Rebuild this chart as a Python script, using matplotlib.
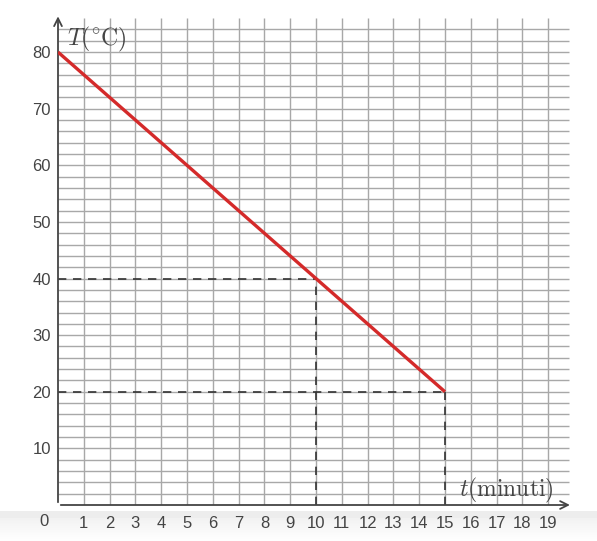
import matplotlib.pyplot as plt
import numpy as np

plt.rcParams['mathtext.fontset'] = 'cm'
plt.rcParams['font.family'] = ['Liberation Sans', 'DejaVu Sans']

# data
t_line = [0, 15]
T_line = [80, 20]
guide_t = [10, 15]
guide_T = [40, 20]
x_ticks = list(range(1, 20))
y_ticks = [10, 20, 30, 40, 50, 60, 70, 80]

fig = plt.figure(figsize=(5.97, 5.41), dpi=100)

# light grey band at bottom of the screenshot
grad = np.concatenate([np.linspace(0, 0.75, 40), np.full(12, 1.0)]).reshape(-1, 1)
bax = fig.add_axes([0, 0, 1, 30 / 541], zorder=-1)
bax.imshow(grad[::-1], aspect='auto', cmap='Greys', vmin=0, vmax=7, extent=[0, 1, 0, 1])
bax.axis('off')

ax = fig.add_axes([58 / 597, 36 / 541, 525 / 597, 492 / 541])
ax.patch.set_alpha(0)
ax.set_xlim(0, 20.35)
ax.set_ylim(0, 86.9)
for s in ax.spines.values():
    s.set_visible(False)

# grid paper
grid_c = '#a8a8a8'
ax.hlines(np.arange(2, 85, 2), 0, 19.8, color=grid_c, lw=1.0, zorder=1)
ax.vlines(np.arange(1, 20), 0, 86, color=grid_c, lw=1.0, zorder=1)

# axes with arrows
ax.annotate('', xy=(19.95, 0), xytext=(0, 0),
            arrowprops=dict(arrowstyle='->', color='#444444', lw=1.3, mutation_scale=14),
            annotation_clip=False, zorder=3)
ax.annotate('', xy=(0, 86.8), xytext=(0, 0),
            arrowprops=dict(arrowstyle='->', color='#444444', lw=1.3, mutation_scale=14),
            annotation_clip=False, zorder=3)

# dashed guides
for tt, TT in zip(guide_t, guide_T):
    ax.plot([0, tt], [TT, TT], color='#333333', lw=1.2, dashes=(5, 4), zorder=2)
    ax.plot([tt, tt], [0, TT], color='#333333', lw=1.2, dashes=(5, 4), zorder=2)

ax.plot(t_line, T_line, color='#d42a2a', lw=2.4, zorder=4, solid_capstyle='butt')

ax.set_xticks(x_ticks)
ax.set_xticklabels([str(v) for v in x_ticks])
ax.set_yticks(y_ticks)
ax.set_yticklabels([str(v) for v in y_ticks])
ax.tick_params(length=0, labelsize=12, colors='#444444')
ax.tick_params(axis='x', pad=8)
ax.tick_params(axis='y', pad=5)
ax.text(-0.35, -1.6, '0', ha='right', va='top', fontsize=12, color='#444444')

ax.text(0.35, 82.3, r'$T({}^{\circ}\mathrm{C})$', fontsize=17, color='#444444', va='center')
ax.text(15.55, 2.6, r'$t(\mathrm{minuti})$', fontsize=17, color='#444444', va='center')

fig.savefig('out.png', dpi=100)
